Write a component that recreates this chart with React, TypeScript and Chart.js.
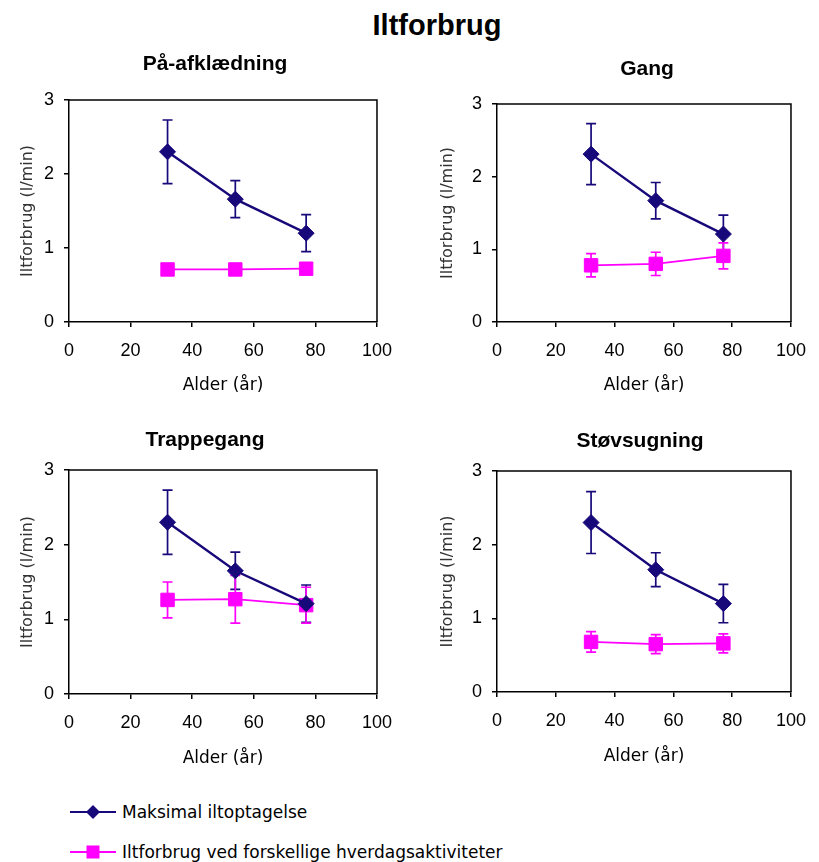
import React, { useEffect, useRef } from 'react';
import { Chart, registerables } from 'chart.js';

Chart.register(...registerables);

// ---------- data ----------
const mainTitle = 'Iltforbrug';
const panelTitles = ['På-afklædning', 'Gang', 'Trappegang', 'Støvsugning'];
const seriesNames = ['Maksimal iltoptagelse', 'Iltforbrug ved forskellige hverdagsaktiviteter'];
const xTitle = 'Alder (år)';
const yTitle = 'Iltforbrug (l/min)';
const xTicks = [0, 20, 40, 60, 80, 100];
const yTicks = [0, 1, 2, 3];

const ages = [32, 54, 77];
// Maksimal iltoptagelse: mean and SD per panel
const maxMean = [
  [2.3, 1.66, 1.2],
  [2.31, 1.67, 1.21],
  [2.3, 1.65, 1.21],
  [2.3, 1.66, 1.2],
];
const maxSd = [
  [0.43, 0.25, 0.25],
  [0.42, 0.25, 0.26],
  [0.43, 0.25, 0.25],
  [0.42, 0.23, 0.26],
];
// Iltforbrug ved hverdagsaktiviteter: mean and SD per panel
const actMean = [
  [0.71, 0.71, 0.72],
  [0.78, 0.8, 0.91],
  [1.26, 1.27, 1.19],
  [0.68, 0.65, 0.66],
];
const actSd = [
  [0.05, 0.04, 0.05],
  [0.16, 0.16, 0.18],
  [0.24, 0.32, 0.24],
  [0.14, 0.13, 0.13],
];

// ---------- styling / layout ----------
const BLUE = '#17097a';
const MAGENTA = '#ff00ff';
const SANS = '"Liberation Sans", Arial, sans-serif';
const WIDE = '"DejaVu Sans", sans-serif';

type Box = {
  cx: number; cy: number; cw: number; ch: number;
  left: number; right: number; top: number; bottom: number;
  yTitleX: number; xTitleY: number; titleX: number; titleY: number;
};

const boxes: Box[] = [
  { cx: 0, cy: 40, cw: 405, ch: 370, left: 69, right: 378, top: 100, bottom: 322, yTitleX: 27.5, xTitleY: 386, titleX: 215, titleY: 64 },
  { cx: 405, cy: 40, cw: 414, ch: 370, left: 497, right: 800, top: 104, bottom: 322, yTitleX: 448, xTitleY: 386, titleX: 647, titleY: 69 },
  { cx: 0, cy: 410, cw: 405, ch: 370, left: 69, right: 378, top: 470, bottom: 694, yTitleX: 27.5, xTitleY: 759, titleX: 205, titleY: 440 },
  { cx: 405, cy: 410, cw: 414, ch: 370, left: 497, right: 800, top: 471, bottom: 692, yTitleX: 448, xTitleY: 757, titleX: 640, titleY: 441 },
];

const errorBarPlugin = {
  id: 'errorBars',
  beforeDatasetsDraw(chart: any) {
    const { ctx, scales } = chart;
    chart.data.datasets.forEach((ds: any) => {
      const errs: number[] = ds.errs || [];
      ctx.save();
      ctx.strokeStyle = ds.borderColor;
      ctx.lineWidth = 1.7;
      ds.data.forEach((p: any, j: number) => {
        const e = errs[j] || 0;
        const x = scales.x.getPixelForValue(p.x);
        const y1 = scales.y.getPixelForValue(p.y + e);
        const y2 = scales.y.getPixelForValue(p.y - e);
        ctx.beginPath();
        ctx.moveTo(x, y1); ctx.lineTo(x, y2);
        ctx.moveTo(x - 5, y1); ctx.lineTo(x + 5, y1);
        ctx.moveTo(x - 5, y2); ctx.lineTo(x + 5, y2);
        ctx.stroke();
      });
      ctx.restore();
    });
  },
};

const framePlugin = {
  id: 'frame',
  afterDraw(chart: any) {
    const { ctx, chartArea: a } = chart;
    ctx.save();
    ctx.strokeStyle = '#000';
    ctx.lineWidth = 1.5;
    ctx.beginPath();
    ctx.moveTo(a.left, a.top); ctx.lineTo(a.right, a.top); ctx.lineTo(a.right, a.bottom);
    ctx.stroke();
    ctx.restore();
  },
};

const panelTitlePlugin = {
  id: 'panelTitle',
  afterDraw(chart: any, _args: any, opts: any) {
    const { ctx } = chart;
    ctx.save();
    ctx.font = `bold 21px ${SANS}`;
    ctx.fillStyle = '#000';
    ctx.textAlign = 'center';
    ctx.textBaseline = 'middle';
    ctx.fillText(opts.text, opts.x, opts.y);
    ctx.restore();
  },
};

function Panel({ index }: { index: number }) {
  const ref = useRef<HTMLCanvasElement>(null);
  const b = boxes[index];
  useEffect(() => {
    if (!ref.current) return;
    const yLh = 16 * 1.2;
    const xLh = 17 * 1.2;
    const chart = new Chart(ref.current, {
      type: 'line',
      data: {
        datasets: [
          {
            label: seriesNames[0],
            data: ages.map((a, j) => ({ x: a, y: maxMean[index][j] })),
            borderColor: BLUE,
            backgroundColor: BLUE,
            borderWidth: 2.4,
            pointStyle: 'rectRot',
            pointRadius: 8,
            pointBorderWidth: 1,
            errs: maxSd[index],
          } as any,
          {
            label: seriesNames[1],
            data: ages.map((a, j) => ({ x: a, y: actMean[index][j] })),
            borderColor: MAGENTA,
            backgroundColor: MAGENTA,
            borderWidth: 1.7,
            pointStyle: 'rect',
            pointRadius: 9.5,
            pointBorderWidth: 1,
            errs: actSd[index],
          } as any,
        ],
      },
      options: {
        animation: false,
        responsive: false,
        events: [],
        layout: {
          padding: { top: b.top - b.cy, right: b.cw - (b.right - b.cx), left: 0, bottom: 0 },
        },
        plugins: {
          legend: { display: false },
          title: { display: false },
          tooltip: { enabled: false },
          panelTitle: { text: panelTitles[index], x: b.titleX - b.cx, y: b.titleY - b.cy },
        } as any,
        scales: {
          x: {
            type: 'linear',
            min: 0,
            max: 100,
            afterBuildTicks: (s: any) => { s.ticks = xTicks.map((v) => ({ value: v })); },
            afterFit: (s: any) => { s.height = b.ch - (b.bottom - b.cy); },
            grid: { drawOnChartArea: false, drawTicks: true, tickLength: 5, color: '#000', lineWidth: 1.5 },
            border: { display: true, color: '#000', width: 1.5 },
            ticks: { color: '#000', font: { family: SANS, size: 18 }, padding: 13, maxRotation: 0, autoSkip: false },
            title: {
              display: true,
              text: xTitle,
              color: '#000',
              font: { family: WIDE, size: 17 },
              padding: { top: 0, bottom: b.cy + b.ch - b.xTitleY - xLh / 2 },
            },
          },
          y: {
            type: 'linear',
            min: 0,
            max: 3,
            afterBuildTicks: (s: any) => { s.ticks = yTicks.map((v) => ({ value: v })); },
            afterFit: (s: any) => { s.width = b.left - b.cx; },
            grid: { drawOnChartArea: false, drawTicks: true, tickLength: 5, color: '#000', lineWidth: 1.5 },
            border: { display: true, color: '#000', width: 1.5 },
            ticks: { color: '#000', font: { family: SANS, size: 18 }, padding: 10 },
            title: {
              display: true,
              text: yTitle,
              color: '#333',
              font: { family: WIDE, size: 16 },
              padding: { top: b.yTitleX - b.cx - yLh / 2, bottom: 0 },
            },
          },
        },
      } as any,
      plugins: [errorBarPlugin, framePlugin, panelTitlePlugin],
    });
    return () => chart.destroy();
  }, [index]);
  return (
    <canvas
      ref={ref}
      width={b.cw}
      height={b.ch}
      style={{ position: 'absolute', left: b.cx, top: b.cy, width: b.cw, height: b.ch }}
    />
  );
}

function LegendRow({ color, marker, text, y }: { color: string; marker: 'diamond' | 'square'; text: string; y: number }) {
  return (
    <div style={{ position: 'absolute', left: 70, top: y - 12, height: 24, display: 'flex', alignItems: 'center' }}>
      <svg width={48} height={24} style={{ display: 'block' }}>
        <line x1={0} y1={12} x2={46} y2={12} stroke={color} strokeWidth={2} />
        {marker === 'diamond' ? (
          <polygon points="23,5 30,12 23,19 16,12" fill={color} />
        ) : (
          <rect x={16.5} y={5.5} width={13} height={13} fill={color} />
        )}
      </svg>
      <span style={{ fontFamily: WIDE, fontSize: 17, color: '#000', marginLeft: 4, whiteSpace: 'nowrap' }}>{text}</span>
    </div>
  );
}

export default function App() {
  return (
    <div style={{ position: 'absolute', left: 0, top: 0, width: 819, height: 862, background: '#fff', overflow: 'hidden' }}>
      <div
        style={{
          position: 'absolute',
          left: 0,
          width: 874,
          top: 8,
          textAlign: 'center',
          fontFamily: SANS,
          fontWeight: 'bold',
          fontSize: 29,
          lineHeight: '34px',
          color: '#000',
        }}
      >
        {mainTitle}
      </div>
      {[0, 1, 2, 3].map((i) => (
        <Panel key={i} index={i} />
      ))}
      <LegendRow color={BLUE} marker="diamond" text={seriesNames[0]} y={812} />
      <LegendRow color={MAGENTA} marker="square" text={seriesNames[1]} y={852} />
    </div>
  );
}
